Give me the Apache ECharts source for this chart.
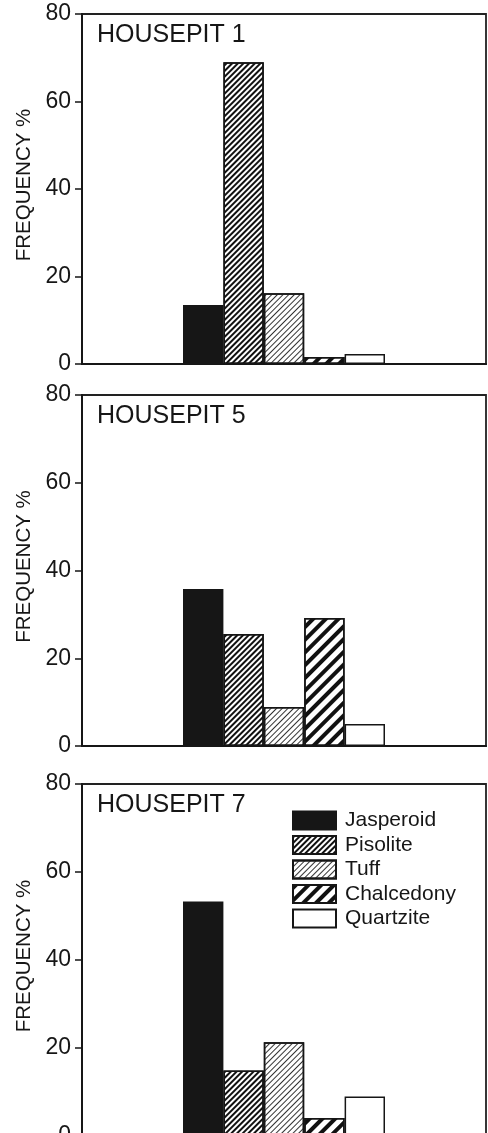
<!DOCTYPE html>
<html>
<head>
<meta charset="utf-8">
<script src="https://cdn.jsdelivr.net/npm/echarts@6/dist/echarts.min.js"></script>
<style>
  html, body { margin: 0; padding: 0; background: #fff; overflow: hidden; }
  #chart { width: 488px; height: 1133px; }
</style>
</head>
<body>
<div id="chart"></div>
<script>
// data
const materials = ['Jasperoid', 'Pisolite', 'Tuff', 'Chalcedony', 'Quartzite'];
const panelTitles = ['HOUSEPIT 1', 'HOUSEPIT 5', 'HOUSEPIT 7'];
const housepit1 = [13.5, 69, 16.2, 1.6, 2.3];
const housepit5 = [35.8, 25.5, 8.9, 29.2, 5.0];
const housepit7 = [53.3, 14.9, 21.3, 4.1, 9.0];
const yTicks = [0, 20, 40, 60, 80];

const panelValues = [housepit1, housepit5, housepit7];
const ink = '#161616';
const font = '"Liberation Sans", Arial, Helvetica, sans-serif';

// fill pattern per material
const hatch = (thick, gap, color) => ({
  symbol: 'rect',
  symbolSize: 1,
  dashArrayX: [[1, 0]],
  dashArrayY: [thick, gap],
  rotation: -Math.PI / 4,
  color: color
});
const fills = {
  Jasperoid: { color: ink },
  Pisolite: { color: '#fff', decal: hatch(2, 1.1, '#111') },
  Tuff: { color: '#fff', decal: hatch(1, 2.2, '#333') },
  Chalcedony: { color: '#fff', decal: hatch(3.4, 4.4, '#111') },
  Quartzite: { color: '#fff' }
};

// plot boxes in pixels (the last one runs just past the bottom of the page)
const boxes = [
  { top: 14, height: 350 },
  { top: 395, height: 351 },
  { top: 784, height: 352 }
];

const chart = echarts.init(document.getElementById('chart'));

const grid = boxes.map(b => ({
  left: 82, right: 2, top: b.top, height: b.height,
  show: true, borderColor: '#222', borderWidth: 1.8,
  containLabel: false, outerBoundsMode: 'none'
}));

const xAxis = boxes.map((b, i) => ({
  gridIndex: i,
  type: 'category',
  data: ['all'],
  axisLine: { lineStyle: { color: ink, width: 2 } },
  axisTick: { show: false },
  axisLabel: { show: false }
}));

const yAxis = boxes.map((b, i) => ({
  gridIndex: i,
  type: 'value',
  min: yTicks[0],
  max: yTicks[yTicks.length - 1],
  interval: yTicks[1] - yTicks[0],
  name: 'FREQUENCY %',
  nameLocation: 'middle',
  nameGap: 46,
  nameTextStyle: { fontSize: 20.5, color: ink, fontFamily: font, padding: [0, 0, 0, 8] },
  axisLine: { show: true, lineStyle: { color: ink, width: 2 } },
  axisTick: { show: true, length: 7, lineStyle: { color: ink, width: 1.5 } },
  axisLabel: { fontSize: 23, color: ink, fontFamily: font, margin: 11 },
  splitLine: { show: false }
}));

const series = [];
panelValues.forEach((vals, p) => {
  materials.forEach((m, i) => {
    series.push({
      name: m,
      type: 'bar',
      xAxisIndex: p,
      yAxisIndex: p,
      barGap: '0%',
      barCategoryGap: '50%',
      itemStyle: Object.assign({ borderColor: ink, borderWidth: 1.5 }, fills[m]),
      emphasis: { disabled: true },
      data: [vals[i]]
    });
  });
});

chart.setOption({
  backgroundColor: '#fff',
  animation: false,
  title: panelTitles.map((t, i) => ({
    text: t,
    left: 92,
    top: boxes[i].top + 4,
    textStyle: { fontSize: 25, fontWeight: 'normal', color: ink, fontFamily: font }
  })),
  legend: {
    orient: 'vertical',
    left: 287,
    top: 805,
    icon: 'rect',
    itemWidth: 43,
    itemHeight: 18,
    itemGap: 3.5,
    data: materials,
    selectedMode: false,
    textStyle: { fontSize: 21, lineHeight: 18, color: ink, fontFamily: font, padding: [0, 0, 0, 4] }
  },
  grid,
  xAxis,
  yAxis,
  series
});
</script>
</body>
</html>
